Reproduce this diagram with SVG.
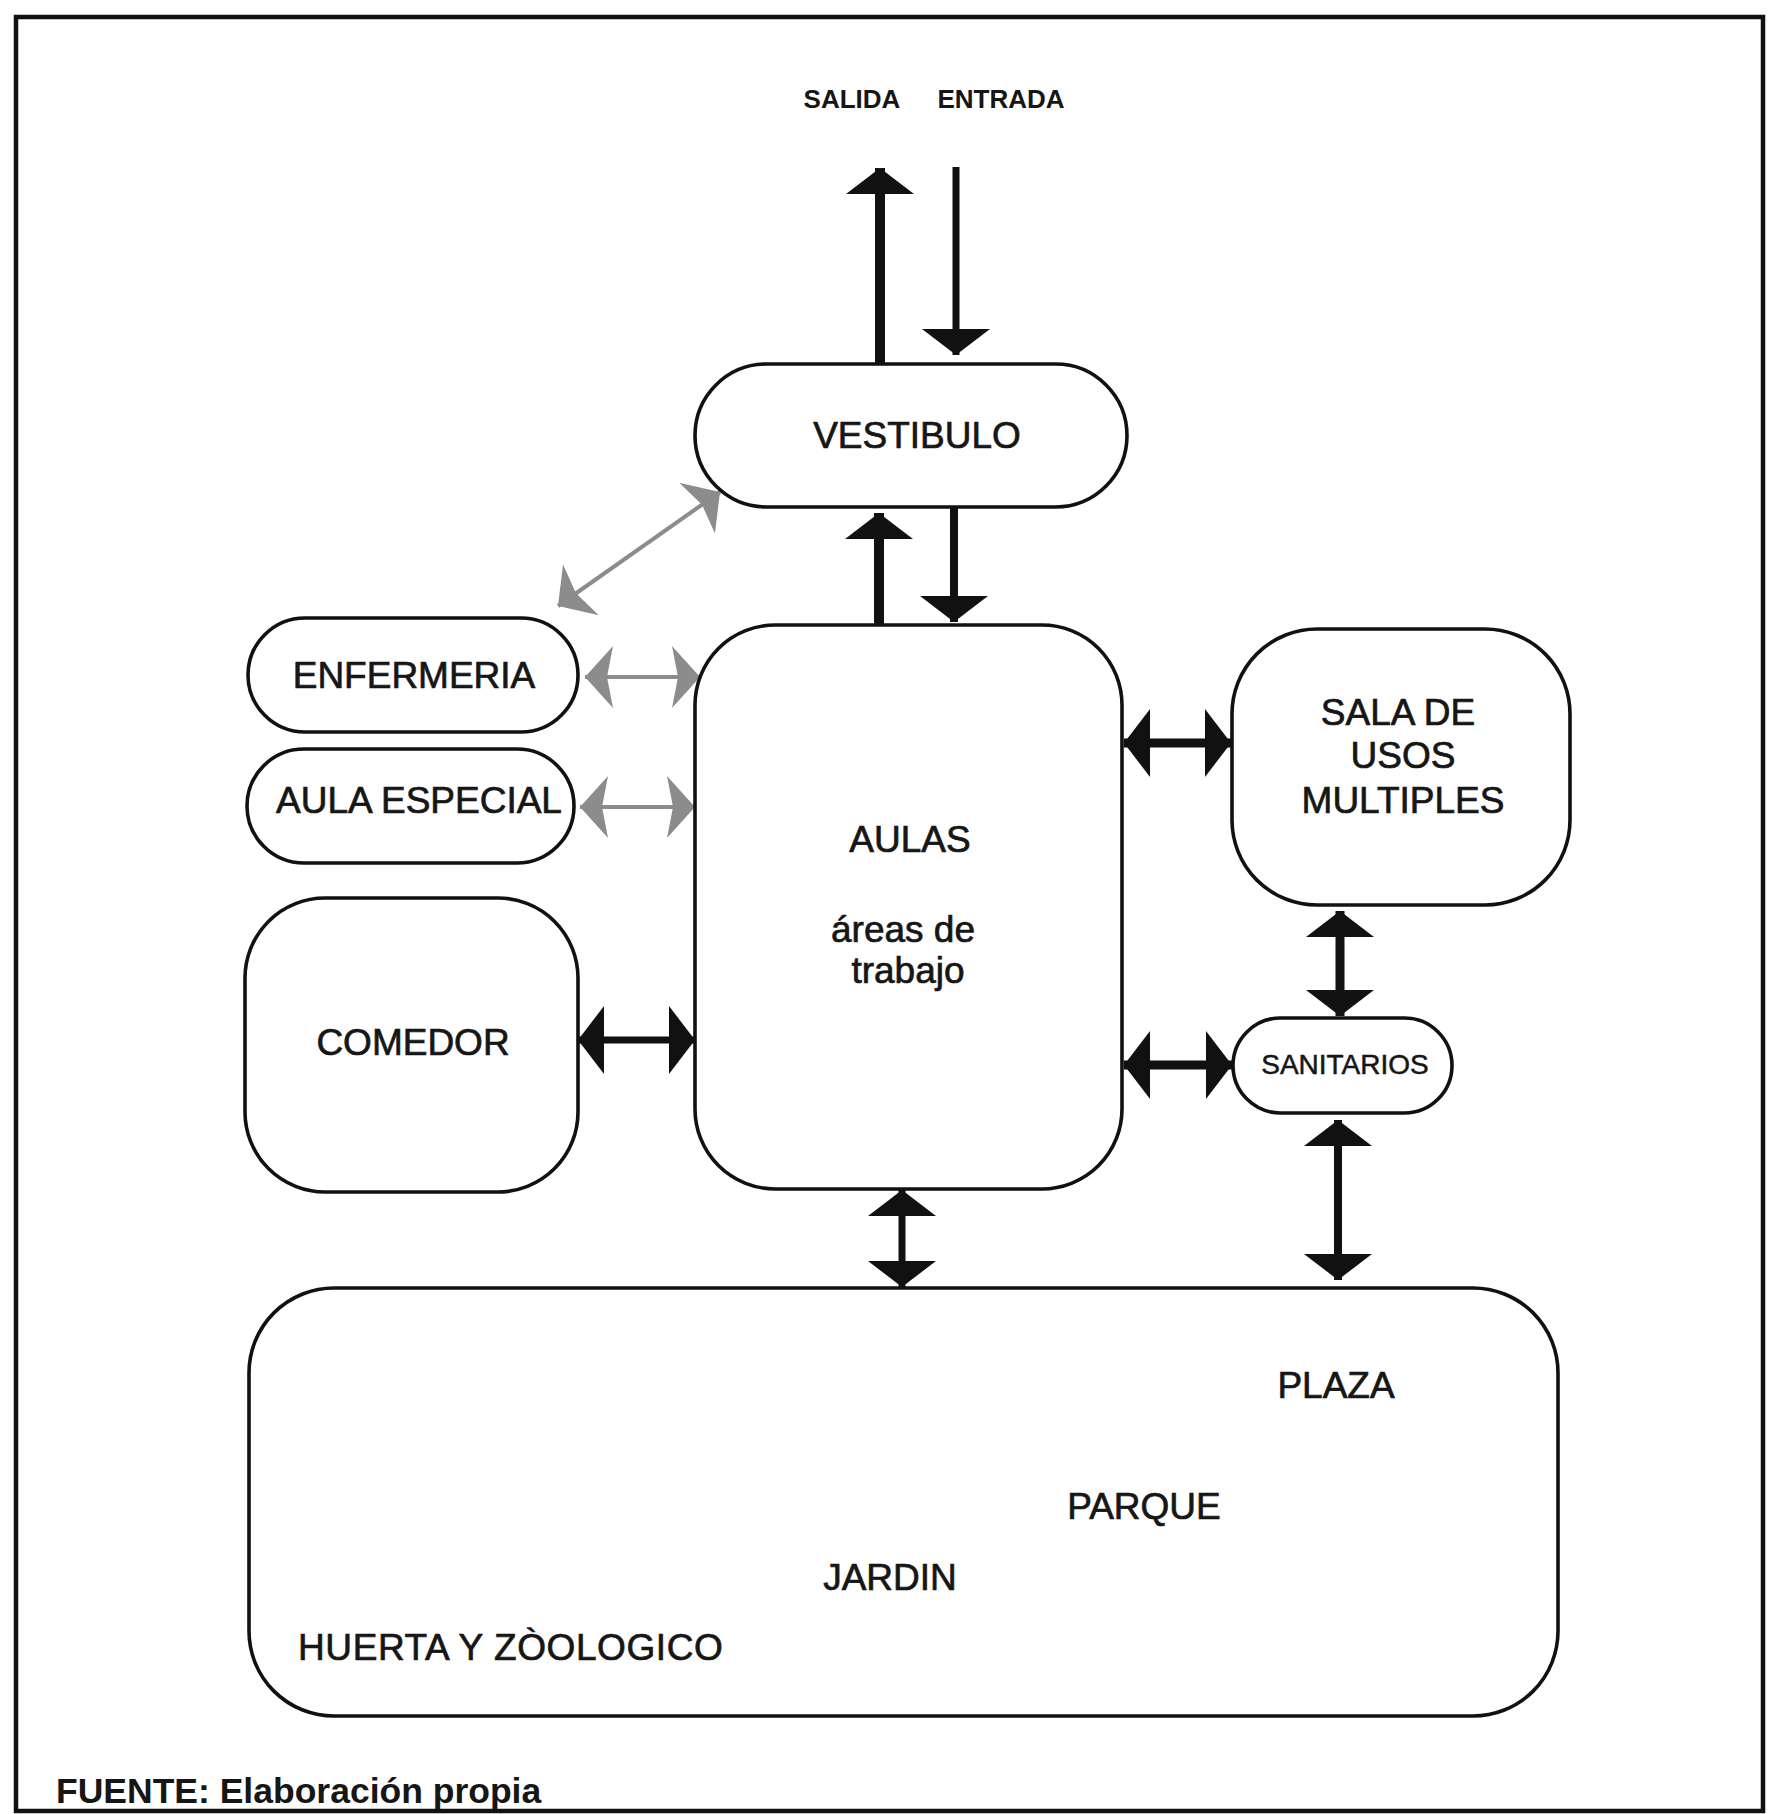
<svg xmlns="http://www.w3.org/2000/svg" width="1768" height="1814" viewBox="0 0 1768 1814">
<style>
.node{fill:#fff;stroke:#111;stroke-width:3.6}
.t{font-family:"Liberation Sans",Arial,sans-serif;font-size:37px;fill:#161616;stroke:#161616;stroke-width:0.7;text-anchor:middle}
.tb{font-family:"Liberation Sans",Arial,sans-serif;font-weight:bold;fill:#161616}
.blk{stroke:#111;fill:none}
.gry{stroke:#8c8c8c;stroke-width:4;fill:none}
</style>
<defs>
<marker id="hb" markerUnits="userSpaceOnUse" markerWidth="28" markerHeight="70" refX="26" refY="34" orient="auto-start-reverse" viewBox="0 0 28 70">
<path d="M0,0 L26,34 L0,68 Z" fill="#111"/>
</marker>
<marker id="hg" markerUnits="userSpaceOnUse" markerWidth="30" markerHeight="64" refX="28" refY="31" orient="auto-start-reverse" viewBox="0 0 30 64">
<path d="M0,0 L28,31 L0,62 L6,31 Z" fill="#8c8c8c"/>
</marker>
</defs>
<rect x="16" y="17" width="1747" height="1794" fill="#fff" stroke="#111" stroke-width="4.5"/>

<g id="connectors">
<line class="blk" stroke-width="10" x1="880" y1="364" x2="880" y2="168" marker-end="url(#hb)"/>
<line class="blk" stroke-width="7" x1="956" y1="167" x2="956" y2="355" marker-end="url(#hb)"/>
<line class="blk" stroke-width="10" x1="879" y1="625" x2="879" y2="513" marker-end="url(#hb)"/>
<line class="blk" stroke-width="8" x1="954" y1="507" x2="954" y2="622" marker-end="url(#hb)"/>
<line class="gry" x1="558" y1="606" x2="720" y2="492" marker-start="url(#hg)" marker-end="url(#hg)"/>
<line class="gry" x1="585" y1="677" x2="700" y2="677" marker-start="url(#hg)" marker-end="url(#hg)"/>
<line class="gry" x1="580" y1="807" x2="695" y2="807" marker-start="url(#hg)" marker-end="url(#hg)"/>
<line class="blk" stroke-width="7" x1="578" y1="1040" x2="695" y2="1040" marker-start="url(#hb)" marker-end="url(#hb)"/>
<line class="blk" stroke-width="9" x1="1124" y1="743" x2="1231" y2="743" marker-start="url(#hb)" marker-end="url(#hb)"/>
<line class="blk" stroke-width="9" x1="1124" y1="1065" x2="1232" y2="1065" marker-start="url(#hb)" marker-end="url(#hb)"/>
<line class="blk" stroke-width="9" x1="1340" y1="911" x2="1340" y2="1016" marker-start="url(#hb)" marker-end="url(#hb)"/>
<line class="blk" stroke-width="8" x1="1338" y1="1120" x2="1338" y2="1280" marker-start="url(#hb)" marker-end="url(#hb)"/>
<line class="blk" stroke-width="7" x1="902" y1="1190" x2="902" y2="1287" marker-start="url(#hb)" marker-end="url(#hb)"/>
</g>

<g id="labels-io">
<text class="tb" x="852" y="108" font-size="26" text-anchor="middle">SALIDA</text>
<text class="tb" x="1001" y="108" font-size="26" text-anchor="middle">ENTRADA</text>
</g>

<g id="vestibulo">
<rect class="node" x="695" y="364" width="432" height="143" rx="71.5"/>
<text class="t" x="917" y="448">VESTIBULO</text>
</g>

<g id="aulas">
<rect class="node" x="695" y="625" width="427" height="564" rx="80"/>
<text class="t" x="910" y="852">AULAS</text>
<text class="t" x="903" y="942">áreas de</text>
<text class="t" x="908" y="983">trabajo</text>
</g>

<g id="enfermeria">
<rect class="node" x="248" y="618" width="330" height="114" rx="57"/>
<text class="t" x="414" y="688">ENFERMERIA</text>
</g>

<g id="aula-especial">
<rect class="node" x="247" y="749" width="327" height="114" rx="57"/>
<text class="t" x="419" y="813">AULA ESPECIAL</text>
</g>

<g id="comedor">
<rect class="node" x="245" y="898" width="333" height="294" rx="80"/>
<text class="t" x="413" y="1055">COMEDOR</text>
</g>

<g id="sala-usos-multiples">
<rect class="node" x="1232" y="629" width="338" height="276" rx="85"/>
<text class="t" x="1398" y="725">SALA DE</text>
<text class="t" x="1403" y="768">USOS</text>
<text class="t" x="1403" y="813">MULTIPLES</text>
</g>

<g id="sanitarios">
<rect class="node" x="1233" y="1018" width="219" height="95" rx="47.5"/>
<text class="t" x="1345" y="1074" style="font-size:28px;stroke-width:0.5">SANITARIOS</text>
</g>

<g id="exteriores">
<rect class="node" x="249" y="1288" width="1309" height="428" rx="85"/>
<text class="t" x="1336" y="1398">PLAZA</text>
<text class="t" x="1144" y="1519">PARQUE</text>
<text class="t" x="890" y="1590">JARDIN</text>
<text class="t" x="298" y="1660" style="text-anchor:start;letter-spacing:0.6px">HUERTA Y ZÒOLOGICO</text>
</g>

<text class="tb" x="56" y="1803" font-size="35.5">FUENTE: Elaboración propia</text>
</svg>
